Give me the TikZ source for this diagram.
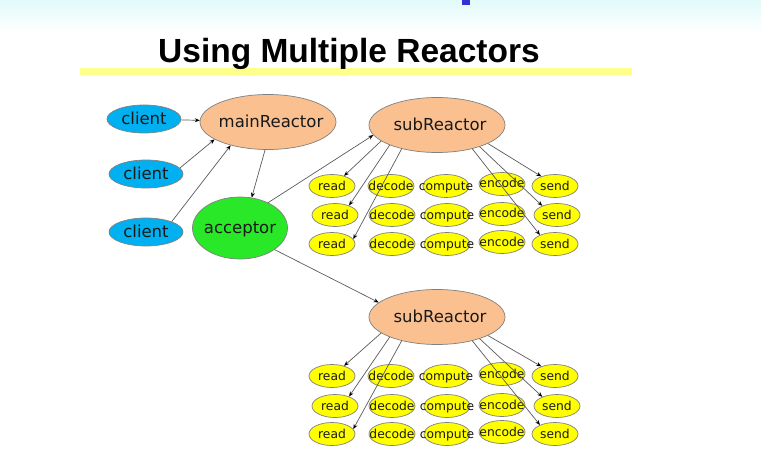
\documentclass[tikz,border=0pt]{standalone}
\usepackage{fontspec}
\setmainfont{DejaVu Sans}
\newfontfamily\titlefont{Liberation Sans}
\usetikzlibrary{shapes.geometric,arrows.meta}
\definecolor{clientblue}{RGB}{0,176,240}
\definecolor{peach}{RGB}{250,192,144}
\definecolor{accgreen}{RGB}{40,232,40}
\definecolor{ylw}{RGB}{255,255,0}
\definecolor{edgegray}{RGB}{90,90,90}
\definecolor{topcyan}{RGB}{226,250,250}
\definecolor{baryellow}{RGB}{255,255,140}
\definecolor{markblue}{RGB}{50,50,210}
\tikzset{
  ell/.style={ellipse, draw=gray, line width=0.7pt, inner sep=0pt},
  bignode/.style={ell, font=\fontsize{16.5}{19}\selectfont, text=black!90, text height=13pt, text depth=1.5pt},
  clientnode/.style={bignode, fill=clientblue, minimum width=74pt, minimum height=28pt},
  reactornode/.style={bignode, fill=peach, minimum width=136pt, minimum height=55pt},
  acceptornode/.style={bignode, fill=accgreen, minimum width=95pt, minimum height=62pt},
  smallnode/.style={ell, fill=ylw, minimum width=46pt, minimum height=23pt, font=\fontsize{12.3}{14}\selectfont, text=black!90, text height=10pt, text depth=2pt},
  arr/.style={draw=edgegray, line width=0.7pt, -{Stealth[length=5pt,width=4pt,black]}},
}
\begin{document}
\begin{tikzpicture}[x=1pt,y=-1pt]
\useasboundingbox (0,0) rectangle (761,468);
\shade[top color=topcyan, bottom color=white] (0,0) rectangle (761,32);
\fill[markblue] (462,0) rectangle (470,5);
\fill[baryellow] (80,68) rectangle (632,75);
\node[anchor=base, font=\titlefont\bfseries\fontsize{33.5}{36}\selectfont] (title) at (349,63) {Using Multiple Reactors};

\node[clientnode] (c1) at (144,119) {\makebox[0pt]{client}};
\node[clientnode] (c2) at (146,174) {\makebox[0pt]{client}};
\node[clientnode] (c3) at (146,232) {\makebox[0pt]{client}};
\node[reactornode] (main) at (268,122) {\makebox[0pt]{\hspace*{6pt}mainReactor}};
\node[acceptornode] (acc) at (240,228) {\makebox[0pt]{acceptor}};

\foreach \g/\sy/\ra/\rb/\rc in {1/125/186/215/244, 2/317/376/406/434} {
  \node[reactornode] (sub\g) at (437,\sy) {\makebox[0pt]{\hspace*{6pt}subReactor}};
  \node[smallnode] (rda\g) at (332,\ra) {\makebox[0pt]{read}};
  \node[smallnode] (rdb\g) at (335,\rb) {\makebox[0pt]{read}};
  \node[smallnode] (rdc\g) at (332,\rc) {\makebox[0pt]{read}};
  \node[smallnode] (dea\g) at (391,\ra) {\makebox[0pt]{decode}};
  \node[smallnode] (deb\g) at (392,\rb) {\makebox[0pt]{decode}};
  \node[smallnode] (dec\g) at (392,\rc) {\makebox[0pt]{decode}};
  \node[smallnode] (coa\g) at (446,\ra) {\makebox[0pt]{compute}};
  \node[smallnode] (cob\g) at (447,\rb) {\makebox[0pt]{compute}};
  \node[smallnode] (coc\g) at (447,\rc) {\makebox[0pt]{compute}};
  \node[smallnode] (ena\g) at (502,\ra-2) {\makebox[0pt]{encode}};
  \node[smallnode] (enb\g) at (502,\rb-1) {\makebox[0pt]{encode}};
  \node[smallnode] (enc\g) at (502,\rc-2) {\makebox[0pt]{encode}};
  \node[smallnode] (sea\g) at (555,\ra) {\makebox[0pt]{send}};
  \node[smallnode] (seb\g) at (557,\rb) {\makebox[0pt]{send}};
  \node[smallnode] (sec\g) at (555,\rc) {\makebox[0pt]{send}};
  \draw[arr] (sub\g.196) -- (rda\g.40);
  \draw[arr] (sub\g.203) -- (rdb\g.34);
  \draw[arr] (sub\g.214) -- (rdc\g.13);
  \draw[arr] (sub\g.340) -- (sea\g.145);
  \draw[arr] (sub\g.333) -- (seb\g.148);
  \draw[arr] (sub\g.326) -- (sec\g.149);
}

\draw[arr] (c1) -- (main);
\draw[arr] (c2.10) -- (main.198);
\draw[arr] (c3.22) -- (main.212);
\draw[arr] (main.264) -- (acc.69);
\draw[arr] (acc.42) -- (sub1.189);
\draw[arr] (acc.328) -- (sub2.166);
\end{tikzpicture}
\end{document}
